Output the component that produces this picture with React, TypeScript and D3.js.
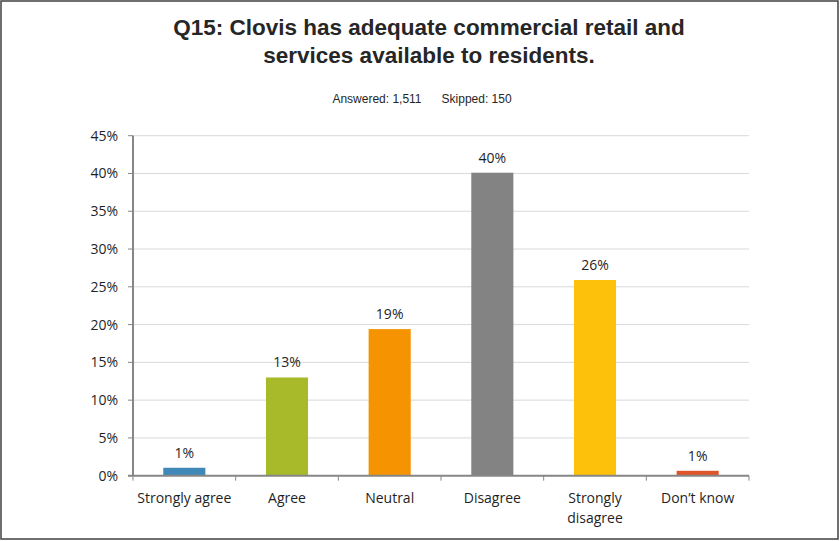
import React from "react";
import * as d3 from "d3";

const categories = ["Strongly agree", "Agree", "Neutral", "Disagree", "Strongly disagree", "Don\u2019t know"];
const values = [1.05, 13.0, 19.4, 40.1, 25.9, 0.65];
const colors = ["#3f88b8", "#a8b92a", "#f59300", "#838383", "#fdc10c", "#e0542a"];
const yTicks = [0, 5, 10, 15, 20, 25, 30, 35, 40, 45];
const titleLines = ["Q15: Clovis has adequate commercial retail and", "services available to residents."];
const subtitle = "Answered: 1,511      Skipped: 150";

const W = 840, H = 541;
const left = 133, right = 749, top = 135.7, bottom = 475.7;

export default function App() {
  const x = d3.scaleBand<string>().domain(categories).range([left, right]).paddingInner(0.59).paddingOuter(0.295);
  const y = d3.scaleLinear().domain([0, 45]).range([bottom, top]);
  const step = (right - left) / categories.length;
  const font = "'Segoe UI', 'Open Sans', 'Noto Sans', sans-serif";
  return (
    <svg width={W} height={H} style={{ position: "absolute", left: 0, top: 0 }}>
      <rect x={0} y={0} width={W} height={H} fill="#fff" />
      <rect x={1} y={1} width={837} height={538} fill="none" stroke="#404040" strokeWidth={1.5} />
      {titleLines.map((t, i) => (
        <text key={i} x={429} y={35 + i * 28} textAnchor="middle" fontFamily="'Liberation Sans', Arial, sans-serif" fontWeight="bold" fontSize={22.5} fill="#262626">{t}</text>
      ))}
      <text x={422} y={103} textAnchor="middle" fontFamily="'Liberation Sans', Arial, sans-serif" fontSize={12} fill="#262626" style={{ whiteSpace: "pre" }}>{subtitle}</text>
      {yTicks.map((t) => (
        <g key={t}>
          {t > 0 && <line x1={left} x2={right} y1={y(t)} y2={y(t)} stroke="#d9d9d9" strokeWidth={1} />}
          <line x1={left - 5} x2={left} y1={y(t)} y2={y(t)} stroke="#868686" strokeWidth={1} />
          <text x={118} y={y(t) + 5} textAnchor="end" fontFamily={font} fontSize={14} fill="#1f1f1f">{t}%</text>
        </g>
      ))}
      {categories.map((c, i) => (
        <g key={c}>
          <rect x={x(c)} y={y(values[i])} width={x.bandwidth()} height={bottom - y(values[i])} fill={colors[i]} />
          <text x={x(c)! + x.bandwidth() / 2} y={y(values[i]) - 10} textAnchor="middle" fontFamily={font} fontSize={14} fill="#1f1f1f">{Math.round(values[i])}%</text>
        </g>
      ))}
      <line x1={left} x2={left} y1={top} y2={bottom} stroke="#868686" strokeWidth={2} />
      <line x1={left - 5} x2={right} y1={bottom} y2={bottom} stroke="#868686" strokeWidth={2} />
      {d3.range(categories.length + 1).map((i) => (
        <line key={i} x1={left + i * step} x2={left + i * step} y1={bottom} y2={bottom + 5} stroke="#868686" strokeWidth={1} />
      ))}
      {categories.map((c, i) => {
        const cx = x(c)! + x.bandwidth() / 2;
        const lines = c === "Strongly disagree" ? ["Strongly", "disagree"] : [c];
        return lines.map((l, j) => (
          <text key={c + j} x={cx} y={503 + j * 20} textAnchor="middle" fontFamily={font} fontSize={14} fill="#1f1f1f">{l}</text>
        ));
      })}
    </svg>
  );
}
